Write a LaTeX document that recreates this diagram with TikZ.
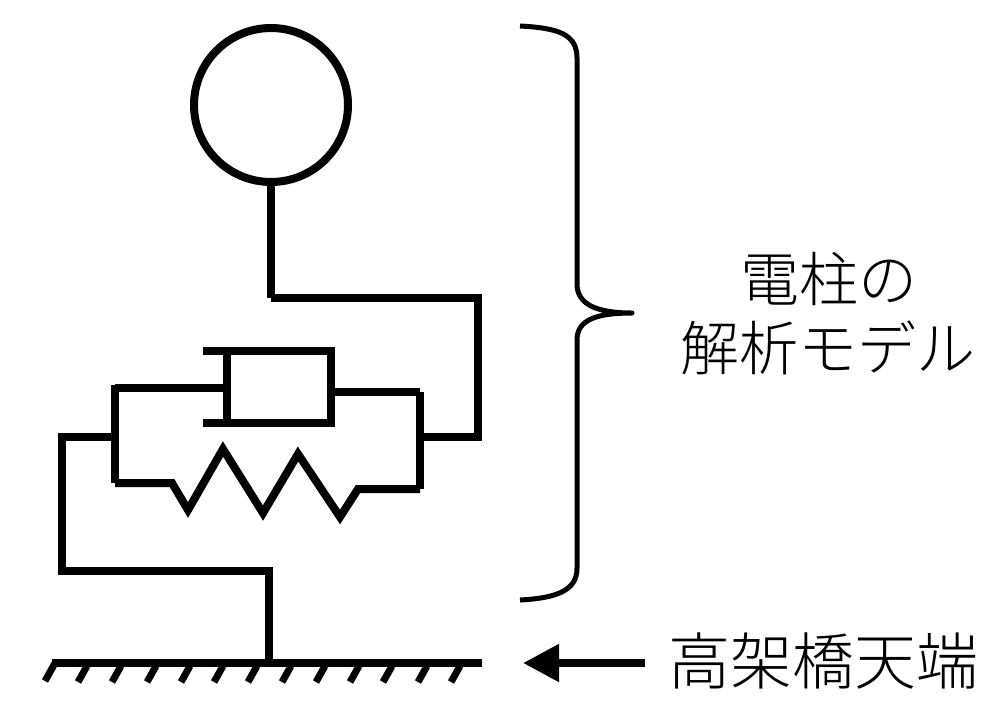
\documentclass[tikz,border=0pt]{standalone}
\usepackage{fontspec}
\newfontfamily\cjk{Noto Sans CJK JP Light}
\usetikzlibrary{arrows.meta}
\tikzset{
  wire/.style={draw=black,line width=8pt,line cap=butt,line join=miter},
  hatch/.style={draw=black,line width=7pt},
  bracecurve/.style={draw=black,line width=5pt,line join=round},
  label/.style={font=\cjk\fontsize{59}{68}\selectfont,inner sep=0pt,align=center,text=black},
  decklabel/.style={font=\cjk\fontsize{62}{68}\selectfont,inner sep=0pt,align=center,text=black},
  massnode/.style={circle,draw=black,line width=8pt,minimum size=154pt,inner sep=0pt,outer sep=0pt},
  pointer/.style={draw=black,line width=8pt,-{Triangle[length=36pt,width=36pt]}}
}
\begin{document}
\begin{tikzpicture}[x=1pt,y=-1pt]
\useasboundingbox (0,0) rectangle (1000,710);
\node[massnode] (mass) at (271,105) {};
\coordinate (joint) at (271,298);
\coordinate (topright) at (478,298);
\coordinate (rightlink) at (478,437);
\coordinate (rbar) at (420,437);
\coordinate (rbartop) at (420,392);
\coordinate (rbarbot) at (420,489);
\coordinate (lbar) at (115,437);
\coordinate (lbartop) at (115,385);
\coordinate (lbarbot) at (115,483);
\coordinate (leftlink) at (62,437);
\coordinate (leftdown) at (62,571);
\coordinate (base) at (269,571);
\coordinate (ground) at (269,663);
\coordinate (gl) at (52,663);
\coordinate (gr) at (482,663);
% upper connection
\draw[wire] (mass.south) -- (joint);
\draw[wire] (joint) -- (topright) -- (rightlink) -- (rbar);
\draw[wire] (rbartop) -- (rbarbot);
\draw[wire] (lbartop) -- (lbarbot);
% damper
\draw[wire] (203,351) -- (331,351) -- (331,423) -- (203,423);
\draw[wire] (227,351) -- (227,423);
\draw[wire] (lbartop |- 0,388) -- (227,388);
\draw[wire] (331,392) -- (rbartop);
% spring
\draw[wire] (lbarbot) -- (172,483) -- (188,510) -- (223,449) -- (263,513) -- (298,454) -- (340,517) -- (358,489) -- (rbarbot);
% lower connection
\draw[wire] (lbar) -- (leftlink) -- (leftdown) -- (base) -- (ground);
% ground
\draw[wire] (gl) -- (gr);
\draw[hatch] (55,663) -- (45,681);
\foreach \x in {78,112,147,181,214,248,282,316,350,383,418,451}
  \draw[hatch] (\x+9,666) -- (\x,682);
% brace
\draw[bracecurve] (520,26) .. controls (558,28) and (577,34) .. (577,58) -- (577,284)
  .. controls (577,304) and (596,313) .. (632,313)
  .. controls (596,313) and (577,320) .. (577,340) -- (577,568)
  .. controls (577,590) and (558,598) .. (520,600);
% pointer
\coordinate (ptrstart) at (645,663);
\coordinate (ptrend) at (523,663);
\draw[pointer] (ptrstart) -- (ptrend);
% labels
\node[label] (model1) at (829,279) {電柱の};
\node[label] (model2) at (828,348) {解析モデル};
\node[decklabel] (deck) at (823,661) {高架橋天端};
\end{tikzpicture}
\end{document}
